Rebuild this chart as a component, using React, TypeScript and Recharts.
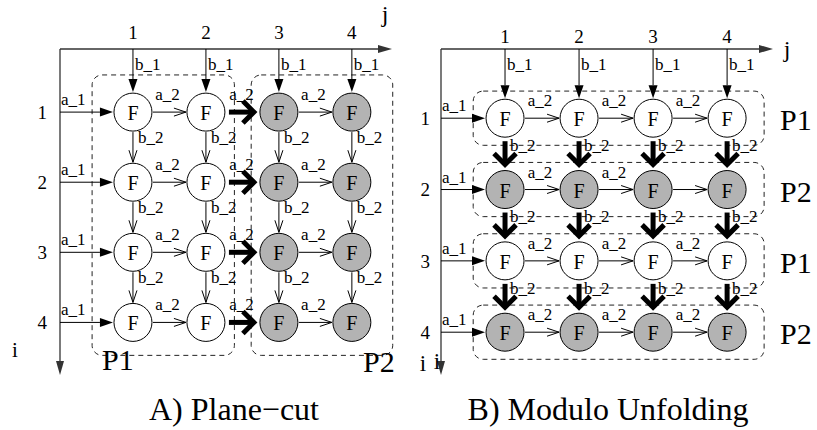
import React from 'react'
import { ScatterChart, Scatter, XAxis, YAxis, ReferenceLine, ReferenceArea } from 'recharts'

const SERIF = '"Liberation Serif", "DejaVu Serif", serif'

// iteration space: i = row, j = column
const ROWS = [1, 2, 3, 4]
const COLS = [1, 2, 3, 4]
const TICKS = [1, 2, 3, 4]

// which processor runs each iteration
const PLANE_CUT_BY_COL = [1, 1, 2, 2] // A) cut between column 2 and 3
const MODULO_BY_ROW = [1, 2, 1, 2] // B) rows dealt round robin
const PROC_NAMES = ['P1', 'P2']

// a_2 labels missing in the original drawing (row-col)
const HIDDEN_LABELS_B = ['2-4']

const TITLE_A = 'A) Plane\u2212cut'
const TITLE_B = 'B) Modulo Unfolding'

const R = 19
const GRAY = '#b3b3b3'

type Node = { i: number; j: number; p: number }
type Edge = { x1: number; y1: number; x2: number; y2: number; name: string; kind: 'in' | 'dep' | 'comm'; dir: 'h' | 'v'; hideLabel?: boolean }

const nodesA: Node[] = ROWS.flatMap(i => COLS.map(j => ({ i, j, p: PLANE_CUT_BY_COL[j - 1] })))
const nodesB: Node[] = ROWS.flatMap(i => COLS.map(j => ({ i, j, p: MODULO_BY_ROW[i - 1] })))

function edgesOf(nodes: Node[], j0: number, i0: number, hidden: string[] = []): Edge[] {
  const at = (i: number, j: number) => nodes.find(n => n.i === i && n.j === j)!
  const out: Edge[] = []
  nodes.forEach(n => {
    if (n.j === 1) out.push({ x1: j0, y1: n.i, x2: n.j, y2: n.i, name: 'a_1', kind: 'in', dir: 'h' })
    else {
      const m = at(n.i, n.j - 1)
      out.push({ x1: m.j, y1: m.i, x2: n.j, y2: n.i, name: 'a_2', kind: m.p !== n.p ? 'comm' : 'dep', dir: 'h', hideLabel: hidden.includes(`${n.i}-${n.j}`) })
    }
    if (n.i === 1) out.push({ x1: n.j, y1: i0, x2: n.j, y2: n.i, name: 'b_1', kind: 'in', dir: 'v' })
    else {
      const m = at(n.i - 1, n.j)
      out.push({ x1: m.j, y1: m.i, x2: n.j, y2: n.i, name: 'b_2', kind: m.p !== n.p ? 'comm' : 'dep', dir: 'v' })
    }
  })
  return out
}

function drawEdge(p: any, e: Edge) {
  const { x1, y1, x2, y2 } = p
  const len = Math.hypot(x2 - x1, y2 - y1) || 1
  const ux = (x2 - x1) / len, uy = (y2 - y1) / len
  const nx = -uy, ny = ux
  const a = e.kind === 'in' ? 0 : e.kind === 'comm' ? R + 4 : R + 1
  const b = e.kind === 'comm' ? R + 2 : R + 1
  const sx = x1 + ux * a, sy = y1 + uy * a
  const ex = x2 - ux * b, ey = y2 - uy * b
  let body: React.ReactNode
  if (e.kind === 'in') {
    const L = 13, W = 4.5
    body = (
      <g>
        <line x1={sx} y1={sy} x2={ex - ux * L} y2={ey - uy * L} stroke="#000" strokeWidth={1} />
        <polygon points={`${ex},${ey} ${ex - ux * L + nx * W},${ey - uy * L + ny * W} ${ex - ux * L - nx * W},${ey - uy * L - ny * W}`} fill="#000" />
      </g>
    )
  } else if (e.kind === 'dep') {
    const L = 12, W = 4
    body = (
      <g fill="none" stroke="#000" strokeWidth={1}>
        <line x1={sx} y1={sy} x2={ex} y2={ey} />
        <polyline points={`${ex - ux * L + nx * W},${ey - uy * L + ny * W} ${ex},${ey} ${ex - ux * L - nx * W},${ey - uy * L - ny * W}`} />
      </g>
    )
  } else {
    const tx = ex - ux * 4, ty = ey - uy * 4
    body = (
      <g fill="none" stroke="#000" strokeWidth={5}>
        <line x1={sx} y1={sy} x2={tx} y2={ty} />
        <polyline strokeLinejoin="miter" points={`${tx - ux * 11 + nx * 11},${ty - uy * 11 + ny * 11} ${tx},${ty} ${tx - ux * 11 - nx * 11},${ty - uy * 11 - ny * 11}`} />
      </g>
    )
  }
  let lab: React.ReactNode = null
  if (!e.hideLabel) {
    const t = { fontFamily: SERIF, fontSize: 17, fill: '#000' }
    if (e.dir === 'h' && e.kind === 'in') lab = <text x={sx + 1} y={sy - 7} {...t}>{e.name}</text>
    else if (e.dir === 'h') lab = <text x={(sx + ex) / 2 - 2} y={sy - 12} textAnchor="middle" {...t}>{e.name}</text>
    else if (e.kind === 'in') lab = <text x={sx + 2} y={sy + 21} {...t}>{e.name}</text>
    else lab = <text x={sx + 5} y={(sy + ey) / 2 - 4} {...t}>{e.name}</text>
  }
  return <g>{body}{lab}</g>
}

function drawAxis(p: any, names: { dx: number; dy: number; size: number }[], text: string) {
  const { x1, y1, x2, y2 } = p
  const len = Math.hypot(x2 - x1, y2 - y1) || 1
  const ux = (x2 - x1) / len, uy = (y2 - y1) / len
  const nx = -uy, ny = ux
  const L = 14, W = 4
  return (
    <g>
      <line x1={x1} y1={y1} x2={x2 - ux * L} y2={y2 - uy * L} stroke="#333" strokeWidth={1.3} />
      <polygon points={`${x2},${y2} ${x2 - ux * L + nx * W},${y2 - uy * L + ny * W} ${x2 - ux * L - nx * W},${y2 - uy * L - ny * W}`} fill="#333" />
      {names.map((n, k) => (
        <text key={k} x={x2 + n.dx} y={y2 + n.dy} textAnchor="middle" fontFamily={SERIF} fontSize={n.size} fill="#000">{text}</text>
      ))}
    </g>
  )
}

const nodeShape = (p: any) => (
  <g>
    <circle cx={p.cx} cy={p.cy} r={R} fill={p.payload.p === 2 ? GRAY : '#fff'} stroke="#000" strokeWidth={1} />
    <text x={p.cx} y={p.cy + 8} textAnchor="middle" fontFamily={SERIF} fontSize={20} fill="#000">F</text>
  </g>
)

type Box = { x1: number; x2: number; y1: number; y2: number; name: string; place: 'bl' | 'br' | 'right' }

// A: one box per processor spanning its columns
const boxesA: Box[] = PROC_NAMES.map((name, k) => {
  const cs = COLS.filter(j => PLANE_CUT_BY_COL[j - 1] === k + 1)
  const lo = Math.min(...cs), hi = Math.max(...cs)
  return {
    x1: lo - (lo === 1 ? 0.56 : 0.38), x2: hi + (hi === COLS.length ? 0.56 : 0.39),
    y1: ROWS[0] - 0.53, y2: ROWS[ROWS.length - 1] + 0.47,
    name, place: k === 0 ? 'bl' : 'br',
  }
})

// B: one box per row
const boxesB: Box[] = ROWS.map(i => ({
  x1: COLS[0] - 0.43, x2: COLS[COLS.length - 1] + 0.5, y1: i - 0.38, y2: i + 0.38,
  name: PROC_NAMES[MODULO_BY_ROW[i - 1] - 1], place: 'right',
}))

const boxShape = (b: Box) => (p: any) => {
  const { x, y, width, height } = p
  const t = { fontFamily: SERIF, fontSize: 30, fill: '#000' }
  let lab
  if (b.place === 'bl') lab = <text x={x + 10} y={y + height + 15} {...t}>{b.name}</text>
  else if (b.place === 'br') lab = <text x={x + width + 2} y={y + height + 17} textAnchor="end" {...t}>{b.name}</text>
  else lab = <text x={x + width + 16} y={y + height / 2 + 12} {...t}>{b.name}</text>
  return (
    <g>
      <rect x={x} y={y} width={width} height={height} rx={10} ry={10} fill="none" stroke="#222" strokeWidth={1} strokeDasharray="5 4" />
      {lab}
    </g>
  )
}

const TICK = { fontFamily: SERIF, fontSize: 19, fill: '#000' }

function Panel(props: {
  nodes: Node[]; boxes: Box[]; xDomain: [number, number]; yDomain: [number, number]; width: number; right: number
  yWidth: number; xTickMargin: number; yTickMargin: number; hidden?: string[]
  jName: { dx: number; dy: number; size: number }[]; iName: { dx: number; dy: number; size: number }[]
}) {
  const { nodes, boxes, xDomain, yDomain } = props
  const edges = edgesOf(nodes, xDomain[0], yDomain[0], props.hidden)
  return (
    <ScatterChart width={props.width} height={430} margin={{ top: 19, right: props.right, bottom: 55, left: 0 }}>
      <XAxis type="number" dataKey="j" orientation="top" domain={xDomain} ticks={TICKS} height={30} axisLine={false} tickLine={false} tickMargin={props.xTickMargin} tick={TICK} allowDataOverflow />
      <YAxis type="number" dataKey="i" domain={yDomain} reversed ticks={TICKS} width={props.yWidth} axisLine={false} tickLine={false} tickMargin={props.yTickMargin} tick={TICK} allowDataOverflow />
      {boxes.map((b, k) => (
        <ReferenceArea key={`b${k}`} x1={b.x1} x2={b.x2} y1={b.y1} y2={b.y2} ifOverflow="visible" shape={boxShape(b)} />
      ))}
      <ReferenceLine segment={[{ x: xDomain[0], y: yDomain[0] }, { x: xDomain[1], y: yDomain[0] }]} ifOverflow="visible" shape={(p: any) => drawAxis(p, props.jName, 'j')} />
      <ReferenceLine segment={[{ x: xDomain[0], y: yDomain[0] }, { x: xDomain[0], y: yDomain[1] }]} ifOverflow="visible" shape={(p: any) => drawAxis(p, props.iName, 'i')} />
      {edges.map((e, k) => (
        <ReferenceLine key={`e${k}`} segment={[{ x: e.x1, y: e.y1 }, { x: e.x2, y: e.y2 }]} ifOverflow="visible" shape={(p: any) => drawEdge(p, e)} />
      ))}
      <Scatter data={nodes} shape={nodeShape} isAnimationActive={false} />
    </ScatterChart>
  )
}

const titleStyle: React.CSSProperties = {
  position: 'absolute', top: 393, width: 400, textAlign: 'center', fontFamily: SERIF, fontSize: 32, lineHeight: '32px', color: '#000',
}

export default function App() {
  return (
    <div style={{ position: 'absolute', left: 0, top: 0, width: 817, height: 430, background: '#fff', overflow: 'hidden' }}>
      <div style={{ position: 'absolute', left: 0, top: 0 }}>
        <Panel nodes={nodesA} boxes={boxesA} xDomain={[0, 4.55]} yDomain={[0.1, 4.75]} width={410} right={18}
          yWidth={60} xTickMargin={4} yTickMargin={7}
          jName={[{ dx: -7, dy: -27, size: 24 }]} iName={[{ dx: -45, dy: -18, size: 21 }]} />
      </div>
      <div style={{ position: 'absolute', left: 410, top: 0 }}>
        <Panel nodes={nodesB} boxes={boxesB} xDomain={[0.135, 4.62]} yDomain={[0.03, 4.6]} width={407} right={44}
          yWidth={31} xTickMargin={0} yTickMargin={5} hidden={HIDDEN_LABELS_B}
          jName={[{ dx: 14, dy: 8, size: 24 }]} iName={[{ dx: -18, dy: -4, size: 23 }, { dx: -4, dy: -6, size: 23 }]} />
      </div>
      <div style={{ ...titleStyle, left: 34 }}>{TITLE_A}</div>
      <div style={{ ...titleStyle, left: 408 }}>{TITLE_B}</div>
    </div>
  )
}
